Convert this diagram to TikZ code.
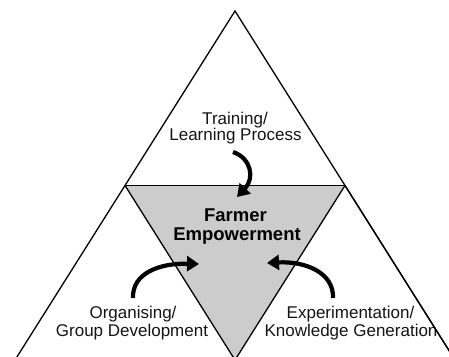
\documentclass[tikz,border=0pt]{standalone}
\usepackage{fontspec}
\setmainfont{Liberation Sans}
\usetikzlibrary{arrows.meta}
\definecolor{fillgray}{RGB}{204,204,204}
\definecolor{inkc}{RGB}{20,20,20}
\tikzset{
  edge/.style={draw=black,line width=1.3pt,line join=miter},
  lbl/.style={inner sep=0pt,anchor=base,text=inkc,font=\fontsize{17}{18}\selectfont},
  core/.style={inner sep=0pt,anchor=base,text=black,font=\bfseries\fontsize{18.5}{20}\selectfont},
  bigarrow/.style={draw=black,line width=4.2pt,-{Triangle[width=15pt,length=12pt]}}
}
\begin{document}
\begin{tikzpicture}[x=1pt,y=-1pt]
\useasboundingbox (0,0) rectangle (449,356);
\clip (0,0) rectangle (449,356);
% vertices
\coordinate (apex) at (235,11);
\coordinate (bl) at (15,360);
\coordinate (br) at (455,360);
\coordinate (ml) at (125,185.5);
\coordinate (mr) at (345,185.5);
\coordinate (mb) at (235,360);
% inner gray triangle
\fill[fillgray] (ml) -- (mr) -- (mb) -- cycle;
\draw[edge] (bl) -- (apex) -- (br);
\draw[edge] (ml) -- (mr);
% labels
\node[lbl] (t1) at (235,124) {Training/};
\node[lbl] (t2) at (235.5,140) {Learning Process};
\node[core] (f1) at (235.5,221) {Farmer};
\node[core] (f2) at (237,240) {Empowerment};
\node[lbl] (o1) at (133,318) {Organising/};
\node[lbl] (o2) at (132,336) {Group Development};
\node[lbl] (e1) at (350.5,318) {Experimentation/};
\node[lbl] (e2) at (351,336) {Knowledge Generation};
% edges over text
\draw[edge] (ml) -- (mb) -- (mr);
\draw[edge] (mr) -- (br);
% arrows
\coordinate (ta) at (233,152);
\coordinate (tb) at (237,197);
\coordinate (la) at (133,298);
\coordinate (lb) at (199,264);
\coordinate (ra) at (333,298);
\coordinate (rb) at (267,263);
\draw[bigarrow] (ta) .. controls (251,158) and (255,178) .. (tb);
\draw[bigarrow] (la) .. controls (132,273) and (160,263) .. (lb);
\draw[bigarrow] (ra) .. controls (334,273) and (306,261) .. (rb);
\end{tikzpicture}
\end{document}
